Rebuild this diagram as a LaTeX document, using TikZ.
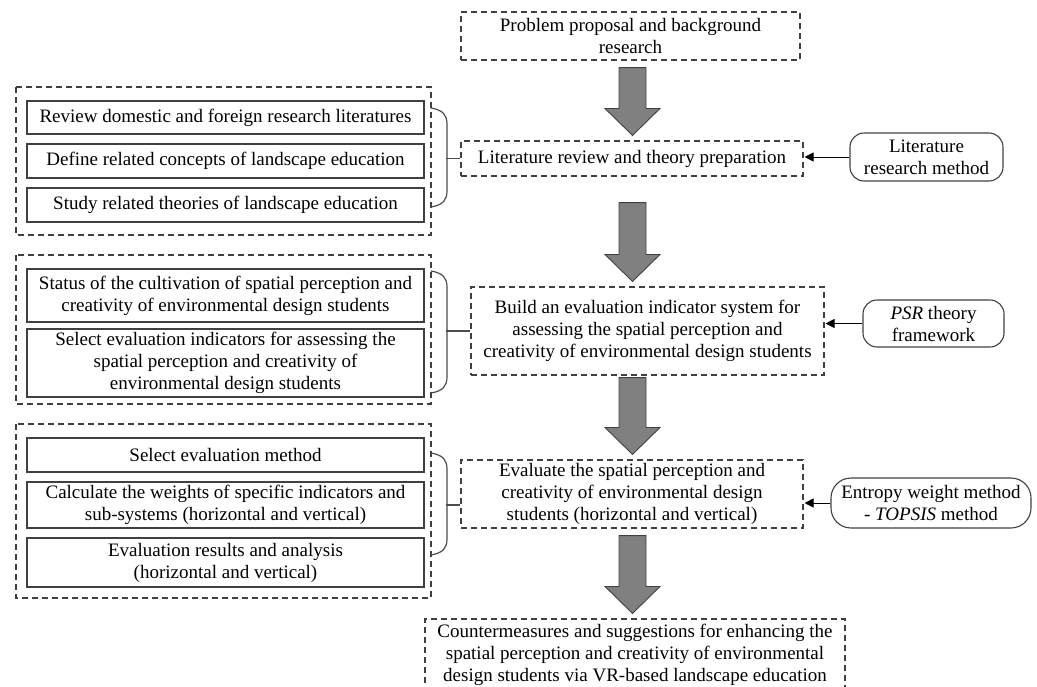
\documentclass[tikz,border=0pt]{standalone}
\usepackage{fontspec}
\setmainfont{Liberation Serif}
\usetikzlibrary{arrows.meta,calc}

\newcommand\arrx{632.5pt}
% thick grey arrow between two boxes of the middle column
\newcommand\bigarrow[3]{%
  \draw[bigarr] let \p1=(#1.south), \p2=(#2.north) in
    (\arrx-13.5pt,\y1-#3pt) -- (\arrx+13.5pt,\y1-#3pt) -- (\arrx+13.5pt,\y2+32pt)
    -- (\arrx+27.5pt,\y2+32pt) -- (\arrx,\y2+5pt) -- (\arrx-27.5pt,\y2+32pt)
    -- (\arrx-13.5pt,\y2+32pt) -- cycle;}

\begin{document}
\begin{tikzpicture}[
    x=1pt, y=-1pt,
    every node/.style={font=\fontsize{19}{22}\selectfont, align=center, inner sep=0pt},
    stepbox/.style={draw=black!75, line width=1.1pt, minimum width=397},
    dashbox/.style={draw=black!75, line width=1.1pt, dash pattern=on 6pt off 4pt},
    method/.style={draw=black!75, line width=1.1pt, rounded corners=14pt},
    bigarr/.style={draw=black!75, fill=black!50, line width=0.9pt},
    brace/.style={draw=black!70, line width=1.2pt},
    feed/.style={-{Triangle[length=9pt,width=9pt]}, line width=1pt, shorten >=1pt}
    ]
\useasboundingbox (0,0) rectangle (1037,686);

%Middle column
\node[dashbox, minimum width=339, minimum height=48] (problem) at (630.5,36)
    {Problem proposal and background\\research};
\node[dashbox, minimum width=342, minimum height=35] (lit) at (632,158.5)
    {Literature review and theory preparation};
\node[dashbox, minimum width=353, minimum height=88] (build) at (647.5,331)
    {Build an evaluation indicator system for\\assessing the spatial perception and\\
     creativity of environmental design students};
\node[dashbox, minimum width=342, minimum height=68] (eval) at (632,494)
    {Evaluate the spatial perception and\\creativity of environmental design\\
     students (horizontal and vertical)};
\node[dashbox, minimum width=420, minimum height=72] (final) at (635,655)
    {Countermeasures and suggestions for enhancing the\\spatial perception and creativity of environmental\\
     design students via VR-based landscape education};

\bigarrow{problem}{lit}{7}
\bigarrow{lit}{build}{26}
\bigarrow{build}{eval}{2}
\bigarrow{eval}{final}{7}

%Methods, right side
\node[method, minimum width=153, minimum height=48] (litm) at (926.5,157)
    {Literature\\research method};
\node[method, minimum width=141, minimum height=47] (psr) at (933.5,323.5)
    {\textit{PSR} theory\\framework};
\node[method, rounded corners=20pt, minimum width=200, minimum height=50] (entropy) at (931,503)
    {Entropy weight method\\- \textit{TOPSIS} method};

\draw[feed] (litm.west) -- (litm.west -| lit.east);
\draw[feed] (psr.west) -- (psr.west -| build.east);
\draw[feed] (entropy.west) -- (entropy.west -| eval.east);

%Left part, group 1
\draw[dashbox] (16,87) rectangle (431,235);
\node[stepbox, minimum height=33] (rev) at (225.5,117.5)
    {Review domestic and foreign research literatures};
\node[stepbox, minimum height=34] (def) at (225.5,161)
    {Define related concepts of landscape education};
\node[stepbox, minimum height=34] (stu) at (225.5,205)
    {Study related theories of landscape education};
\draw[brace] (431,108) .. controls (443,110) and (447,115) .. (447,124)
    -- (447,191) .. controls (447,200) and (443,205) .. (431,207);
\draw[brace] (lit.west) -- ++(-14,0);

%Left part, group 2
\draw[dashbox] (16,255) rectangle (431,404);
\node[stepbox, minimum height=53] (status) at (225.5,295.5)
    {Status of the cultivation of spatial perception and\\creativity of environmental design students};
\node[stepbox, minimum height=68] (select) at (225.5,363)
    {Select evaluation indicators for assessing the\\spatial perception and creativity of\\
     environmental design students};
\draw[brace] (431,271) .. controls (443,273) and (447,278) .. (447,287)
    -- (447,377) .. controls (447,386) and (443,391) .. (431,393);
\draw[brace] (build.west) -- ++(-24,0);

%Left part, group 3
\draw[dashbox] (16,424) rectangle (431,598);
\node[stepbox, minimum height=34] (meth) at (225.5,455)
    {Select evaluation method};
\node[stepbox, minimum height=46] (weights) at (225.5,505)
    {Calculate the weights of specific indicators and\\sub-systems (horizontal and vertical)};
\node[stepbox, minimum height=49] (results) at (225.5,562.5)
    {Evaluation results and analysis\\(horizontal and vertical)};
\draw[brace] (431,453) .. controls (443,455) and (447,460) .. (447,469)
    -- (447,539) .. controls (447,548) and (443,553) .. (431,555);
\draw[brace] (eval.west |- 0,505) -- ++(-14,0);
\end{tikzpicture}
\end{document}
